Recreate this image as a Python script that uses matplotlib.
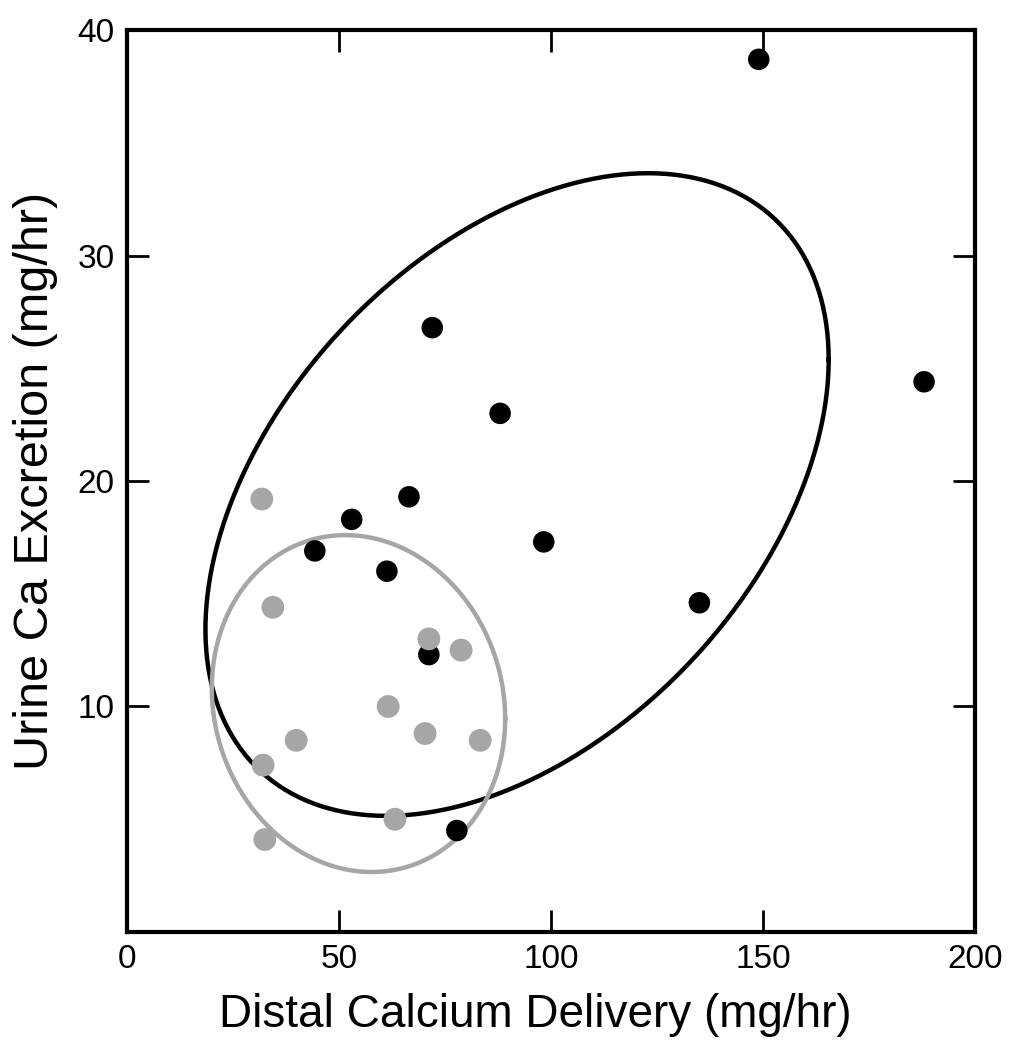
import numpy as np
import matplotlib
matplotlib.use("Agg")
import matplotlib.pyplot as plt

plt.rcParams['font.family'] = ['Liberation Sans', 'DejaVu Sans']

# Data
black_x = [149, 188, 72, 88, 66.5, 53, 44.3, 61.3, 98.3, 135, 71.2, 77.8]
black_y = [38.7, 24.4, 26.8, 23.0, 19.3, 18.3, 16.9, 16.0, 17.3, 14.6, 12.3, 4.5]

gray_x = [31.8, 34.4, 71.2, 78.8, 61.6, 39.9, 70.3, 83.3, 32.1, 32.5, 63.2]
gray_y = [19.2, 14.4, 13.0, 12.5, 10.0, 8.5, 8.8, 8.5, 7.4, 4.1, 5.0]

# Ellipse parameters: center x, center y, half-range x, half-range y, phase
black_ell = dict(cx=92.0, cy=19.4, ax=73.5, ay=14.25, phase=np.arccos(0.42))
gray_ell = dict(cx=54.6, cy=10.13, ax=34.6, ay=7.47, phase=np.arccos(-0.09))

xticks = [0, 50, 100, 150, 200]
yticks = [10, 20, 30, 40]

fig = plt.figure(figsize=(10.16, 10.5), dpi=100)
ax = fig.add_axes([0.125, 0.1124, 0.8346, 0.859])

def ellipse(e):
    t = np.linspace(0, 2 * np.pi, 400)
    return e['cx'] + e['ax'] * np.cos(t), e['cy'] + e['ay'] * np.cos(t - e['phase'])

ex, ey = ellipse(black_ell)
ax.plot(ex, ey, color='black', lw=3.2, zorder=2)
gx, gy = ellipse(gray_ell)
ax.plot(gx, gy, color='#a6a6a6', lw=3.2, zorder=2)

ax.scatter(black_x, black_y, s=240, color='black', edgecolors='none', zorder=3)
ax.scatter(gray_x, gray_y, s=270, color='#a6a6a6', edgecolors='none', zorder=4)

ax.set_xlim(0, 200)
ax.set_ylim(0, 40)
ax.set_xticks(xticks)
ax.set_yticks(yticks)
ax.tick_params(direction='in', length=16, width=2, labelsize=24, top=True, right=True, pad=9)
for s in ax.spines.values():
    s.set_linewidth(3.0)

ax.set_xlabel('Distal Calcium Delivery (mg/hr)', fontsize=33)
ax.xaxis.set_label_coords(0.481, -0.068, transform=ax.transAxes)
ax.xaxis.label.set_va('top')
ax.set_ylabel('Urine Ca Excretion (mg/hr)', fontsize=35, labelpad=14)

fig.savefig('out.png', dpi=100)
